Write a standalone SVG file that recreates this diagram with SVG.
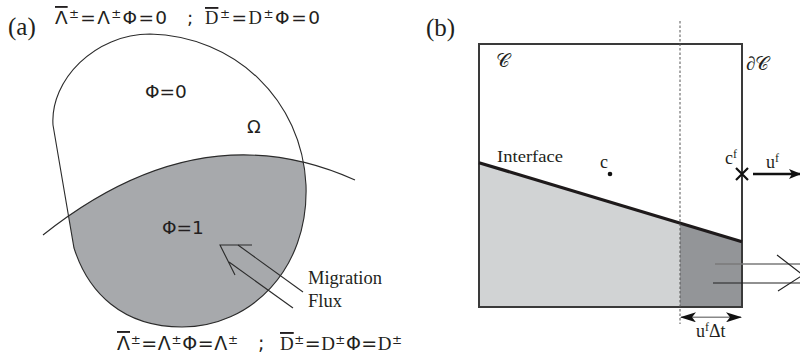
<svg xmlns="http://www.w3.org/2000/svg" width="800" height="359" viewBox="0 0 800 359">
<style>
.serif{font-family:"Liberation Serif","Times New Roman",serif;fill:#231f20}
.sans{font-family:"DejaVu Sans","Liberation Sans",sans-serif;fill:#231f20}
.ln{fill:none;stroke:#2b2b2b;stroke-width:1.1}
.ol{text-decoration:overline}
</style>
<defs>
<clipPath id="blobClip"><path d="M 53 125 C 50 80, 95 34, 150 34 C 235 36, 302 100, 306 185 C 309 270, 250 327, 182 327 C 122 327, 88 292, 74 248 L 53 125 Z"/></clipPath>
<marker id="arrF" viewBox="0 0 12 10" refX="11" refY="5" markerWidth="12" markerHeight="10" markerUnits="userSpaceOnUse" orient="auto">
<path d="M0 0 L12 5 L0 10 L3 5 Z" fill="#111"/>
</marker>
<marker id="dimA" viewBox="0 0 16 10" refX="15" refY="5" markerWidth="16" markerHeight="10" markerUnits="userSpaceOnUse" orient="auto-start-reverse">
<path d="M0 0 L16 5 L0 10 L4 5 Z" fill="#111"/>
</marker>
</defs>

<g id="panel-a">
<text class="serif" x="8" y="35" font-size="25">(a)</text>
<g id="formula-top" class="sans" font-size="18.5">
<text x="55" y="24" textLength="112" lengthAdjust="spacing"><tspan class="ol">Λ</tspan><tspan dy="-6" font-size="12">±</tspan><tspan dy="6">=Λ</tspan><tspan dy="-6" font-size="12">±</tspan><tspan dy="6">Φ=0</tspan></text>
<text x="187" y="24">;</text>
<text x="205" y="24" textLength="115" lengthAdjust="spacing"><tspan class="ol serif">D</tspan><tspan dy="-6" font-size="12">±</tspan><tspan dy="6">=</tspan><tspan class="serif">D</tspan><tspan dy="-6" font-size="12">±</tspan><tspan dy="6">Φ=0</tspan></text>
</g>
<g id="region-grey">
<path clip-path="url(#blobClip)" d="M 43 235 Q 200 110 355 180 L 355 340 L 43 340 Z" fill="#a7a9ac"/>
</g>
<g id="omega">
<path class="ln" d="M 53 125 C 50 80, 95 34, 150 34 C 235 36, 302 100, 306 185 C 309 270, 250 327, 182 327 C 122 327, 88 292, 74 248 L 53 125 Z"/>
</g>
<g id="interface-a">
<path class="ln" d="M 43 235 Q 200 110 355 180"/>
</g>
<text class="sans" x="145" y="98" font-size="18.5">Φ=0</text>
<text class="sans" x="247" y="133" font-size="18">Ω</text>
<text class="sans" x="162" y="234" font-size="18.5">Φ=1</text>
<g id="migration-arrow">
<path class="ln" d="M 252 245 L 220 245 L 235 275"/>
<path class="ln" d="M 238 245 L 303 292"/>
<path class="ln" d="M 229 262 L 293 308"/>
</g>
<text class="serif" x="308" y="284" font-size="18.5">Migration</text>
<text class="serif" x="308" y="307" font-size="18.5">Flux</text>
<g id="formula-bottom" class="sans" font-size="19">
<text x="117" y="350" textLength="121" lengthAdjust="spacing"><tspan class="ol">Λ</tspan><tspan dy="-6" font-size="12">±</tspan><tspan dy="6">=Λ</tspan><tspan dy="-6" font-size="12">±</tspan><tspan dy="6">Φ=Λ</tspan><tspan dy="-6" font-size="12">±</tspan></text>
<text x="258" y="350">;</text>
<text x="280" y="350" textLength="122" lengthAdjust="spacing"><tspan class="ol serif">D</tspan><tspan dy="-6" font-size="12">±</tspan><tspan dy="6">=</tspan><tspan class="serif">D</tspan><tspan dy="-6" font-size="12">±</tspan><tspan dy="6">Φ=</tspan><tspan class="serif">D</tspan><tspan dy="-6" font-size="12">±</tspan></text>
</g>
</g>

<g id="panel-b">
<text class="serif" x="426" y="36" font-size="25">(b)</text>
<g id="fills">
<polygon points="479,162.7 680,223.3 680,307 479,307" fill="#d1d3d4"/>
<polygon points="680,223.3 742,241.7 742,307 680,307" fill="#939598"/>
</g>
<g id="cell">
<rect x="479" y="44" width="263" height="263" fill="none" stroke="#3a3a3a" stroke-width="2"/>
</g>
<g id="interface-b">
<line x1="479" y1="162.7" x2="742" y2="241.7" stroke="#1e1a1b" stroke-width="3.2"/>
</g>
<line x1="680" y1="21" x2="680" y2="324" stroke="#555" stroke-width="1" stroke-dasharray="2.5,2"/>
<text class="serif" x="496" y="67" font-size="19">𝒞</text>
<text class="serif" x="746" y="70" font-size="19">∂𝒞</text>
<text class="serif" x="497" y="162" font-size="17" textLength="66" lengthAdjust="spacingAndGlyphs">Interface</text>
<text class="serif" x="600" y="168" font-size="18">c</text>
<circle cx="610" cy="174" r="2.3" fill="#111"/>
<text class="serif" x="725" y="164" font-size="18">c<tspan dy="-6" font-size="12">f</tspan></text>
<g id="face-point">
<path d="M736 168 L748 180 M748 168 L736 180" stroke="#111" stroke-width="2.2" fill="none"/>
</g>
<g id="connectors">
<line x1="753" y1="174" x2="800" y2="174" stroke="#111" stroke-width="2.4" marker-end="url(#arrF)"/>
<line x1="715" y1="264" x2="801" y2="264" stroke="#7a7a7a" stroke-width="1.3"/>
<line x1="713" y1="283" x2="801" y2="283" stroke="#222" stroke-width="1.1"/>
<polyline points="777,255 803,275 778,291" fill="none" stroke="#222" stroke-width="1.1"/>
<line x1="681" y1="317.3" x2="741" y2="317.3" stroke="#888" stroke-width="1.5" marker-start="url(#dimA)" marker-end="url(#dimA)"/>
</g>
<text class="serif" x="766" y="168" font-size="18">u<tspan dy="-6" font-size="12">f</tspan></text>
<text class="serif" x="696" y="337" font-size="18">u<tspan dy="-6" font-size="12">f</tspan><tspan dy="6">Δt</tspan></text>
</g>
</svg>
